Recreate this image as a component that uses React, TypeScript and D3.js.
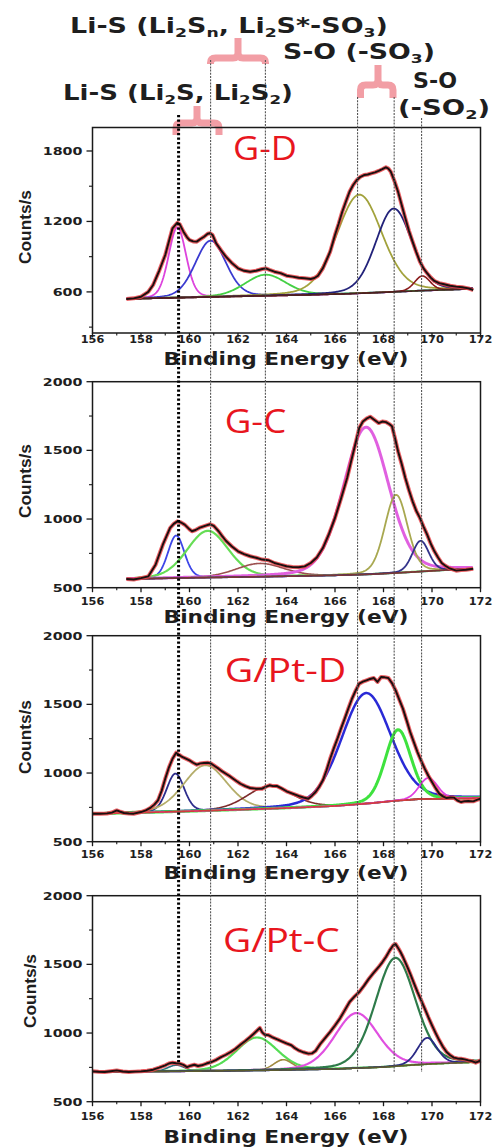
import React, { useLayoutEffect, useRef, useState } from "react";
import * as d3 from "d3";

// ---------------- DATA ----------------
const xTickValues = [156, 158, 160, 162, 164, 166, 168, 170, 172];
const xMinorValues = [157, 159, 161, 163, 165, 167, 169, 171];
const yTicksGD = [600, 1200, 1800];
const yMinorGD = [300, 900, 1500];
const yTicksOther = [500, 1000, 1500, 2000];
const yMinorOther = [750, 1250, 1750];
const yDomainGD = [250, 2000];
const yDomainOther = [500, 2000];

const sampleNames = ["G-D", "G-C", "G/Pt-D", "G/Pt-C"];
const xAxisTitle = "Binding Energy (eV)";
const yAxisTitle = "Counts/s";

// reference (peak position) lines, eV
const refLineEnergies = [160.87, 163.13, 166.93, 168.44, 169.57];
const liSEnergy = 159.55;

const annotationTexts = [
  "Li-S (Li_2S_n, Li_2S*-SO_3)",
  "S-O (-SO_3)",
  "Li-S (Li_2S, Li_2S_2)",
  "S-O",
  "(-SO_2)",
];

// measured spectra [eV, counts/s]
const gdSpectrum: [number, number][] = [
  [157.4, 540], [157.7, 545], [158, 559], [158.3, 600], [158.5, 659], [158.75, 780], [159, 914], [159.15, 1030],
  [159.3, 1141], [159.5, 1189], [159.6, 1175], [159.75, 1113], [159.9, 1065], [160, 1042], [160.15, 1030], [160.3, 1028],
  [160.45, 1050], [160.6, 1070], [160.75, 1095], [160.85, 1099], [160.95, 1085], [161.1, 1014], [161.3, 955], [161.5, 900],
  [161.75, 845], [162, 801], [162.25, 780], [162.5, 772], [162.75, 780], [163, 795], [163.15, 800], [163.3, 787],
  [163.5, 772], [163.75, 760], [164, 738], [164.25, 730], [164.5, 721], [164.75, 716], [165, 710], [165.15, 718],
  [165.3, 738], [165.5, 801], [165.65, 870], [165.8, 942], [166, 1085], [166.15, 1180], [166.3, 1283], [166.45, 1370],
  [166.6, 1453], [166.75, 1510], [166.9, 1553], [167.05, 1580], [167.2, 1595], [167.35, 1600], [167.5, 1609], [167.65, 1618],
  [167.8, 1630], [167.95, 1645], [168.1, 1661], [168.2, 1650], [168.3, 1624], [168.45, 1545], [168.6, 1453], [168.75, 1340],
  [168.9, 1227], [169.05, 1120], [169.2, 1028], [169.35, 940], [169.5, 858], [169.65, 800], [169.8, 759], [169.95, 722],
  [170.1, 693], [170.3, 675], [170.5, 665], [170.75, 652], [171, 645], [171.25, 640], [171.5, 630], [171.7, 616],
];
const gcSpectrum: [number, number][] = [
  [157.4, 563], [157.7, 560], [158, 570], [158.3, 582], [158.6, 667], [158.9, 813], [159.2, 935], [159.35, 965],
  [159.5, 983], [159.65, 975], [159.8, 959], [160, 925], [160.1, 911], [160.25, 920], [160.4, 935], [160.55, 945],
  [160.7, 954], [160.85, 962], [161, 950], [161.2, 911], [161.35, 875], [161.5, 842], [161.75, 800], [162, 765],
  [162.25, 745], [162.5, 729], [162.75, 718], [163, 705], [163.25, 700], [163.5, 680], [163.75, 668], [164, 656],
  [164.25, 650], [164.5, 649], [164.75, 655], [165, 680], [165.25, 720], [165.5, 789], [165.75, 890], [166, 1008],
  [166.25, 1150], [166.5, 1299], [166.65, 1410], [166.8, 1517], [166.9, 1590], [167, 1663], [167.15, 1710], [167.3, 1731],
  [167.45, 1745], [167.6, 1725], [167.8, 1699], [167.95, 1710], [168.1, 1706], [168.25, 1690], [168.35, 1675], [168.5, 1570],
  [168.6, 1493], [168.75, 1400], [168.9, 1299], [169.05, 1210], [169.2, 1129], [169.35, 1060], [169.5, 1008], [169.65, 945],
  [169.8, 886], [169.95, 820], [170.1, 765], [170.25, 720], [170.4, 680], [170.55, 660], [170.7, 643], [171, 624],
  [171.2, 628], [171.4, 631], [171.7, 638],
];
const gptdSpectrum: [number, number][] = [
  [156, 704], [156.3, 703], [156.6, 706], [156.8, 712], [157, 728], [157.15, 718], [157.3, 709], [157.5, 705],
  [157.7, 704], [158, 716], [158.2, 728], [158.4, 748], [158.55, 770], [158.7, 801], [158.85, 870], [159, 959],
  [159.15, 1040], [159.3, 1104], [159.45, 1148], [159.55, 1135], [159.7, 1117], [159.85, 1105], [160, 1092], [160.15, 1075],
  [160.3, 1061], [160.45, 1070], [160.6, 1073], [160.75, 1075], [160.9, 1068], [161.05, 1050], [161.2, 1032], [161.35, 1012],
  [161.5, 995], [161.65, 978], [161.8, 959], [161.95, 940], [162.1, 922], [162.3, 905], [162.5, 891], [162.75, 886],
  [163, 886], [163.15, 900], [163.3, 911], [163.45, 905], [163.6, 906], [163.8, 888], [164, 867], [164.25, 850],
  [164.5, 833], [164.7, 822], [164.9, 813], [165.05, 835], [165.2, 862], [165.35, 900], [165.5, 947], [165.65, 1020],
  [165.8, 1104], [165.95, 1180], [166.1, 1250], [166.25, 1325], [166.4, 1396], [166.55, 1470], [166.7, 1541], [166.85, 1600],
  [167, 1651], [167.15, 1665], [167.3, 1675], [167.45, 1685], [167.6, 1692], [167.75, 1663], [167.9, 1699], [168.05, 1697],
  [168.2, 1692], [168.35, 1655], [168.5, 1602], [168.65, 1535], [168.8, 1469], [168.95, 1385], [169.1, 1299], [169.25, 1225],
  [169.4, 1153], [169.55, 1090], [169.7, 1032], [169.85, 980], [170, 935], [170.15, 890], [170.3, 850], [170.45, 830],
  [170.6, 818], [170.75, 822], [170.9, 821], [171.05, 800], [171.2, 789], [171.35, 795], [171.5, 796], [171.7, 794],
  [171.85, 805], [172, 813],
];
const gptcSpectrum: [number, number][] = [
  [156, 721], [156.25, 718], [156.5, 716], [156.75, 722], [157, 728], [157.25, 720], [157.5, 716], [157.75, 719],
  [158, 721], [158.25, 725], [158.5, 733], [158.75, 748], [159, 765], [159.15, 778], [159.3, 784], [159.45, 780],
  [159.6, 777], [159.75, 768], [159.9, 752], [160.05, 762], [160.2, 769], [160.35, 760], [160.5, 765], [160.7, 778],
  [160.9, 789], [161.1, 805], [161.3, 825], [161.5, 842], [161.7, 862], [161.9, 885], [162.1, 915], [162.3, 942],
  [162.5, 971], [162.65, 995], [162.8, 1020], [162.9, 1037], [163, 1005], [163.1, 988], [163.25, 985], [163.4, 971],
  [163.6, 955], [163.8, 940], [164, 925], [164.2, 911], [164.35, 890], [164.5, 874], [164.7, 860], [164.9, 850],
  [165.05, 852], [165.2, 870], [165.4, 922], [165.6, 965], [165.8, 1008], [166, 1055], [166.2, 1105], [166.4, 1165],
  [166.6, 1226], [166.8, 1265], [167, 1299], [167.2, 1345], [167.4, 1396], [167.6, 1440], [167.8, 1481], [167.95, 1515],
  [168.1, 1554], [168.25, 1600], [168.4, 1639], [168.5, 1648], [168.6, 1620], [168.7, 1590], [168.8, 1554], [168.95, 1495],
  [169.1, 1432], [169.25, 1365], [169.4, 1299], [169.55, 1240], [169.7, 1178], [169.85, 1115], [170, 1056], [170.15, 1000],
  [170.3, 947], [170.45, 900], [170.6, 862], [170.75, 838], [170.9, 821], [171.05, 815], [171.2, 813], [171.35, 808],
  [171.5, 801], [171.65, 795], [171.8, 784], [171.9, 792], [172, 801],
];

// fitted backgrounds [eV, counts/s]
const gdBackground: [number, number][] = [[157.4, 540], [159, 548], [161, 557], [163, 566], [165, 575], [166.5, 584], [168, 596], [169.5, 610], [171.7, 626]];
const gcBackground: [number, number][] = [[157.4, 563], [160, 572], [163, 580], [166, 590], [167.5, 598], [169, 612], [170.5, 628], [171.7, 636]];
const gptdBackground: [number, number][] = [[156, 704], [158, 712], [160, 722], [162, 733], [164, 745], [166, 760], [167.5, 780], [168.5, 798], [169.5, 810], [172, 818]];
const gptcBackground: [number, number][] = [[156, 718], [160, 722], [163, 728], [166, 738], [168, 752], [169, 765], [170, 776], [172, 790]];

// fitted component peaks: [center eV, height above background, FWHM eV]
const gdPeaks: [number, number, number][] = [[159.5, 600, 0.85], [160.87, 480, 1.5], [163.13, 180, 2.0], [167.0, 840, 2.2], [168.42, 710, 1.75], [169.6, 125, 0.75]];
const gcPeaks: [number, number, number][] = [[159.45, 310, 0.8], [160.75, 340, 2.0], [162.9, 97, 2.3], [167.28, 1072, 2.2], [168.52, 569, 1.1], [169.53, 224, 0.8]];
const gptdPeaks: [number, number, number][] = [[159.42, 277, 0.85], [160.65, 331, 2.1], [163.3, 165, 2.2], [167.28, 805, 2.4], [168.6, 516, 1.25], [169.85, 153, 0.9]];
const gptcPeaks: [number, number, number][] = [[159.45, 45, 0.8], [162.78, 240, 2.0], [163.86, 75, 0.9], [166.88, 401, 2.1], [168.49, 789, 1.95], [169.8, 191, 0.95]];

// ---------------- STYLE / LAYOUT ----------------
const gdPeakColors = ["#dd44dd", "#3a3ad0", "#44d044", "#a2a23c", "#22227a", "#8a1c1c"];
const gcPeakColors = ["#3d46e8", "#66dd55", "#9c5050", "#e060e0", "#a8a850", "#33338a"];
const gptdPeakColors = ["#2d2d8c", "#b4ad6a", "#7d2b2b", "#2a2ad6", "#3ee23e", "#e040e0"];
const gptcPeakColors = ["#2f6f7f", "#55dd55", "#a08a40", "#e050e0", "#2e7b4a", "#2a2a86"];
const gdPeakWidths = [1.8, 1.8, 1.8, 1.8, 1.8, 1.6];
const gcPeakWidths = [1.8, 2.2, 1.6, 3, 1.8, 1.8];
const gptdPeakWidths = [1.8, 1.8, 1.6, 2.5, 3, 1.8];
const gptcPeakWidths = [1.6, 2.2, 1.6, 2.2, 2.2, 1.8];
const bgColors = ["#4a2020", "#7a3636", "#d23c3c", "#5b5a2e"];

const PANELS = [
  { top: 127.5, bottom: 333, tickBase: 343, titleBase: 365, labelX: 31, labelY: 227, nameX: 233, nameBase: 160, nameW: 64 },
  { top: 381.7, bottom: 587.7, tickBase: 605, titleBase: 623, labelX: 31, labelY: 481, nameX: 224.7, nameBase: 433, nameW: 61.6 },
  { top: 635.7, bottom: 841.7, tickBase: 858, titleBase: 878.5, labelX: 31, labelY: 737, nameX: 224.7, nameBase: 682, nameW: 121.6 },
  { top: 895.7, bottom: 1101.7, tickBase: 1120, titleBase: 1143, labelX: 36, labelY: 991, nameX: 223, nameBase: 952, nameW: 116.7 },
];

const ANNOT_POS = [
  { x: 70, y: 33, w: 318 },
  { x: 283, y: 59, w: 152 },
  { x: 63, y: 100, w: 230 },
  { x: 413, y: 87.5, w: 44 },
  { x: 398, y: 115, w: 92 },
];
const REF_TOPS = [60, 60, 97, 97, 118];
const BRACKETS = [
  { x1: 210.5, x2: 265.5, xc: 238, top: 38, bar: 58, leg: 64 },
  { x1: 360.5, x2: 393, xc: 378, top: 65, bar: 85, leg: 98 },
  { x1: 176, x2: 219, xc: 197, top: 106, bar: 123, leg: 135 },
];

const panelData = [
  { spectrum: gdSpectrum, background: gdBackground, peaks: gdPeaks, colors: gdPeakColors, widths: gdPeakWidths, yDomain: yDomainGD, ticks: yTicksGD, minor: yMinorGD },
  { spectrum: gcSpectrum, background: gcBackground, peaks: gcPeaks, colors: gcPeakColors, widths: gcPeakWidths, yDomain: yDomainOther, ticks: yTicksOther, minor: yMinorOther },
  { spectrum: gptdSpectrum, background: gptdBackground, peaks: gptdPeaks, colors: gptdPeakColors, widths: gptdPeakWidths, yDomain: yDomainOther, ticks: yTicksOther, minor: yMinorOther },
  { spectrum: gptcSpectrum, background: gptcBackground, peaks: gptcPeaks, colors: gptcPeakColors, widths: gptcPeakWidths, yDomain: yDomainOther, ticks: yTicksOther, minor: yMinorOther },
];

const BOLD = "'DejaVu Sans', Verdana, sans-serif";
const TEXT = "#1e1e1e";

// Gaussian-Lorentzian line shape used by the fit
function lineShape(e: number, c: number, fwhm: number) {
  const d = e - c;
  const s = fwhm / 2.3548;
  return 0.82 * Math.exp((-0.5 * d * d) / (s * s)) + 0.18 / (1 + (4 * d * d) / (fwhm * fwhm));
}

function FitText(props: any) {
  const { x, y, w, anchor = "start", rotate = 0, children, ...rest } = props;
  const ref = useRef<SVGTextElement>(null);
  const [s, setS] = useState(1);
  useLayoutEffect(() => {
    const el = ref.current;
    if (el) {
      const bw = el.getBBox().width;
      if (bw > 0) setS(w / bw);
    }
  }, [w]);
  return (
    <g transform={`translate(${x},${y})${rotate ? ` rotate(${rotate})` : ""} scale(${s},1)`}>
      <text ref={ref} textAnchor={anchor} {...rest}>
        {children}
      </text>
    </g>
  );
}

function rich(str: string) {
  const out: any[] = [];
  let buf = "";
  let shifted = false;
  let k = 0;
  const sh = 3.5;
  for (let i = 0; i < str.length; i++) {
    if (str[i] === "_" && i + 1 < str.length) {
      if (buf) {
        out.push(<tspan key={k++} dy={shifted ? -sh : 0}>{buf}</tspan>);
        shifted = false;
        buf = "";
      }
      out.push(<tspan key={k++} dy={shifted ? 0 : sh} fontSize="0.64em">{str[i + 1]}</tspan>);
      shifted = true;
      i++;
    } else buf += str[i];
  }
  if (buf) out.push(<tspan key={k++} dy={shifted ? -sh : 0}>{buf}</tspan>);
  return out;
}

function Panel({ idx, x }: { idx: number; x: d3.ScaleLinear<number, number> }) {
  const L = PANELS[idx];
  const D = panelData[idx];
  const y = d3.scaleLinear().domain(D.yDomain).range([L.bottom, L.top]);
  const bg = d3.scaleLinear().domain(D.background.map((d) => d[0])).range(D.background.map((d) => d[1])).clamp(true);
  const e0 = D.spectrum[0][0];
  const e1 = D.spectrum[D.spectrum.length - 1][0];
  const grid = d3.range(e0, e1 + 0.001, 0.04);
  const line = d3.line<[number, number]>().x((d) => x(d[0])).y((d) => y(d[1]));
  const comps = D.peaks.map(([c, h, w]) => grid.map((e) => [e, bg(e) + h * lineShape(e, c, w)] as [number, number]));
  const bgLine = grid.map((e) => [e, bg(e)] as [number, number]);
  const left = x.range()[0];
  const right = x.range()[1];

  return (
    <g>
      {comps.map((pts, i) => (
        <path key={i} d={line(pts) || ""} fill="none" stroke={D.colors[i]} strokeWidth={D.widths[i]} strokeLinejoin="round" />
      ))}
      <path d={line(bgLine) || ""} fill="none" stroke={bgColors[idx]} strokeWidth={1.6} />
      <path d={line(D.spectrum) || ""} fill="none" stroke="#e8454a" strokeWidth={4} strokeLinejoin="round" opacity={0.85} />
      <path d={line(D.spectrum) || ""} fill="none" stroke="#1b1010" strokeWidth={1.9} strokeLinejoin="round" />

      {/* frame */}
      <rect x={left} y={L.top} width={right - left} height={L.bottom - L.top} fill="none" stroke="#1a1a1a" strokeWidth={1.5} />
      {/* x ticks */}
      {xTickValues.map((v) => (
        <line key={"xt" + v} x1={x(v)} x2={x(v)} y1={L.bottom} y2={L.bottom + 4.5} stroke="#1a1a1a" strokeWidth={1.3} />
      ))}
      {xMinorValues.map((v) => (
        <line key={"xm" + v} x1={x(v)} x2={x(v)} y1={L.bottom} y2={L.bottom + 2.5} stroke="#1a1a1a" strokeWidth={1.1} />
      ))}
      {xTickValues.map((v) => (
        <text key={"xl" + v} transform={`translate(${x(v)},${L.tickBase}) scale(1.03,1)`} textAnchor="middle" fontSize={11} fontWeight="bold" fontFamily={BOLD} fill={TEXT}>
          {v}
        </text>
      ))}
      {/* y ticks */}
      {D.ticks.map((v) => (
        <line key={"yt" + v} x1={left - 6} x2={left} y1={y(v)} y2={y(v)} stroke="#1a1a1a" strokeWidth={1.3} />
      ))}
      {D.minor.map((v) => (
        <line key={"ym" + v} x1={left - 3.5} x2={left} y1={y(v)} y2={y(v)} stroke="#1a1a1a" strokeWidth={1.1} />
      ))}
      {D.ticks.map((v) => (
        <text key={"yl" + v} transform={`translate(82.5,${y(v) + 4}) scale(1.3,1)`} textAnchor="end" fontSize={11} fontWeight="bold" fontFamily={BOLD} fill={TEXT}>
          {v}
        </text>
      ))}
      <FitText x={286} y={L.titleBase} w={245} anchor="middle" fontSize={18} fontWeight="bold" fontFamily={BOLD} fill={TEXT}>
        {xAxisTitle}
      </FitText>
      <FitText x={L.labelX} y={L.labelY} rotate={-90} w={74} anchor="middle" fontSize={17} fontWeight="bold" fontFamily="'Liberation Sans', Arial, sans-serif" fill={TEXT}>
        {yAxisTitle}
      </FitText>
      <FitText x={L.nameX} y={L.nameBase} w={L.nameW} fontSize={32} fontFamily="'Open Sans', 'Noto Sans', sans-serif" fill="#e8161e">
        {sampleNames[idx]}
      </FitText>
    </g>
  );
}

function bracketPath(b: { x1: number; x2: number; xc: number; top: number; bar: number; leg: number }) {
  const r = 5;
  return (
    `M${b.x1},${b.leg} L${b.x1},${b.bar + r} Q${b.x1},${b.bar} ${b.x1 + r},${b.bar} L${b.xc - r},${b.bar} Q${b.xc},${b.bar} ${b.xc},${b.bar - r} L${b.xc},${b.top} ` +
    `M${b.xc},${b.bar - r} Q${b.xc},${b.bar} ${b.xc + r},${b.bar} L${b.x2 - r},${b.bar} Q${b.x2},${b.bar} ${b.x2},${b.bar + r} L${b.x2},${b.leg}`
  );
}

export default function App() {
  const x = d3.scaleLinear().domain([156, 172]).range([92.5, 480.5]);
  return (
    <svg width={503} height={1148} style={{ position: "absolute", left: 0, top: 0, display: "block" }}>
      <rect width={503} height={1148} fill="#fff" />
      {BRACKETS.map((b, i) => (
        <path key={"br" + i} d={bracketPath(b)} fill="none" stroke="#f29ea5" strokeWidth={7} strokeLinecap="butt" strokeLinejoin="round" />
      ))}
      {PANELS.map((_, i) => (
        <Panel key={i} idx={i} x={x} />
      ))}
      {refLineEnergies.map((e, i) => (
        <line key={"ref" + i} x1={x(e)} x2={x(e)} y1={REF_TOPS[i]} y2={1072} stroke="#555" strokeWidth={1.1} strokeDasharray="2 1.2" />
      ))}
      <line x1={x(liSEnergy)} x2={x(liSEnergy)} y1={115} y2={1063} stroke="#000" strokeWidth={3} strokeDasharray="2.2 2.3" />
      {annotationTexts.map((t, i) => (
        <FitText key={"an" + i} x={ANNOT_POS[i].x} y={ANNOT_POS[i].y} w={ANNOT_POS[i].w} fontSize={20.5} fontWeight="bold" fontFamily={BOLD} fill={TEXT}>
          {rich(t)}
        </FitText>
      ))}
    </svg>
  );
}
